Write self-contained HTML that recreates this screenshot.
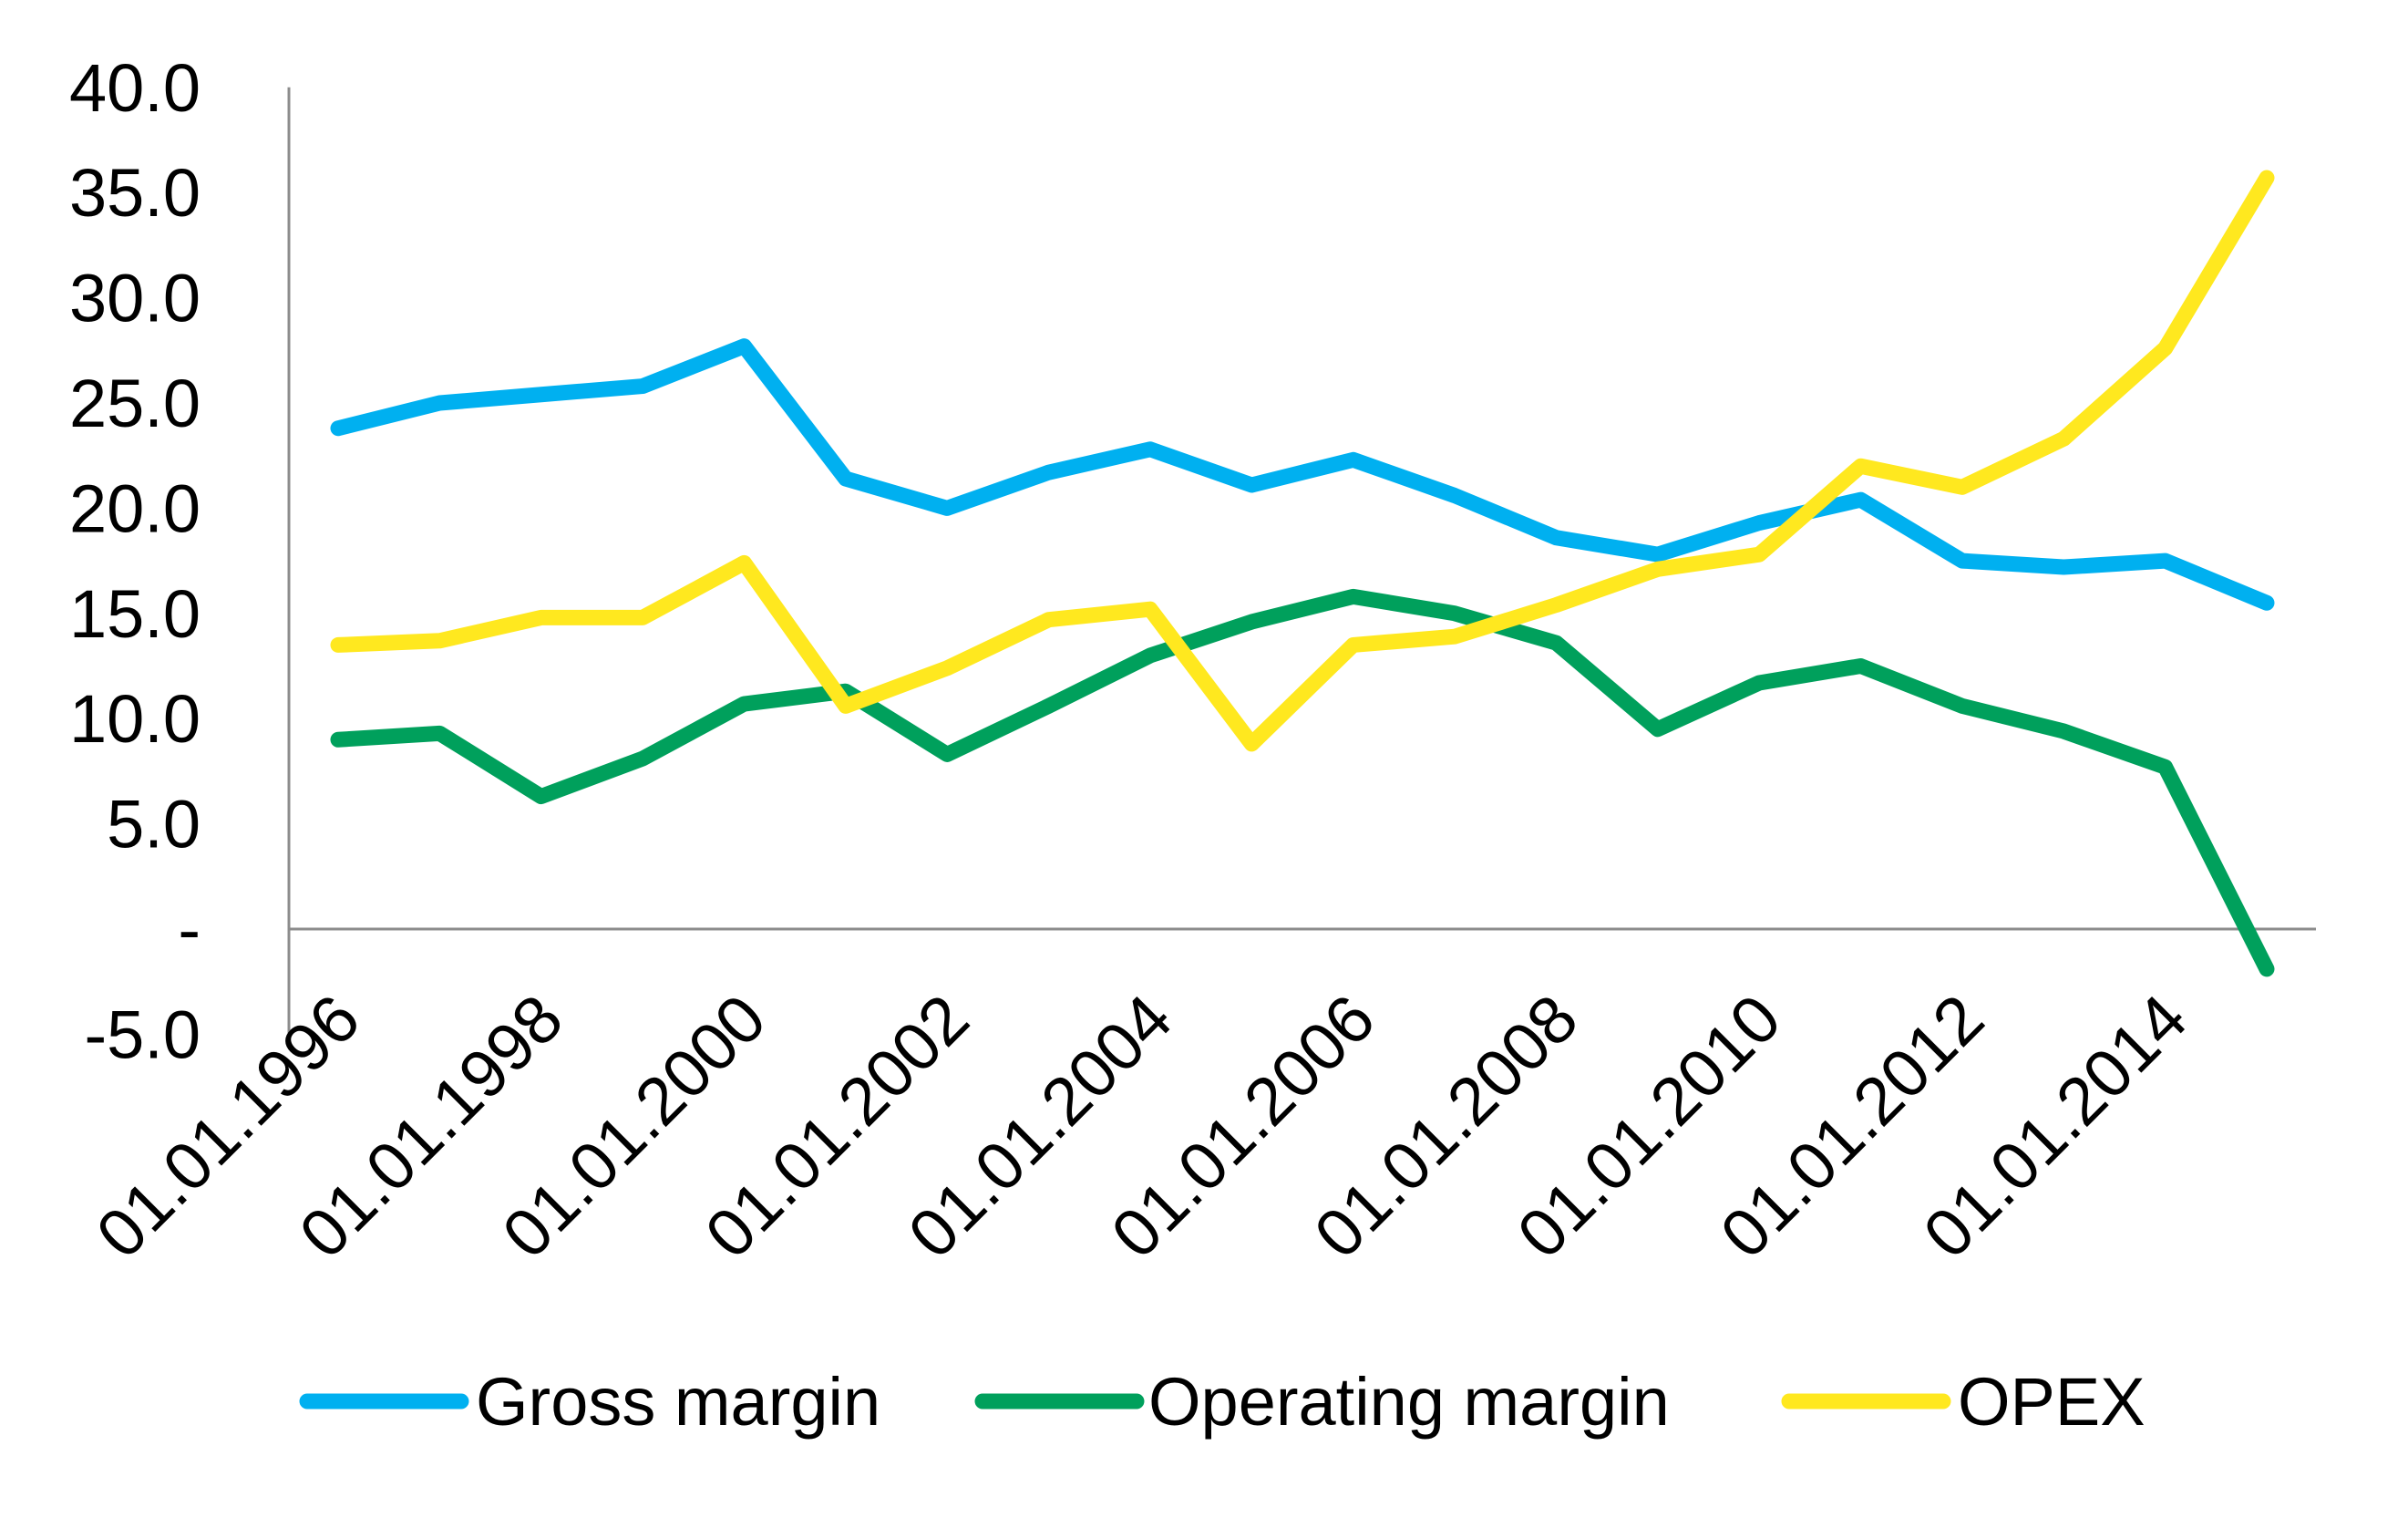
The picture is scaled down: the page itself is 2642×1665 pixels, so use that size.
<!DOCTYPE html>
<html><head><meta charset="utf-8"><style>
html,body{margin:0;padding:0;background:#fff;}
svg{display:block;font-family:"Liberation Sans",sans-serif;}
</style></head><body>
<svg id="chart" width="2642" height="1665" viewBox="0 0 2642 1665"></svg>
<script>
const years=[1996,1997,1998,1999,2000,2001,2002,2003,2004,2005,2006,2007,2008,2009,2010,2011,2012,2013,2014,2015];
const grossMargin=[23.8,25.0,25.4,25.8,27.7,21.4,20.0,21.7,22.8,21.1,22.3,20.6,18.6,17.8,19.3,20.4,17.5,17.2,17.5,15.5];
const operatingMargin=[9.0,9.3,6.3,8.1,10.7,11.3,8.3,10.6,13.0,14.6,15.8,15.0,13.6,9.5,11.7,12.5,10.6,9.4,7.7,-1.9];
const opex=[13.5,13.7,14.8,14.8,17.4,10.6,12.4,14.7,15.2,8.8,13.5,13.9,15.4,17.1,17.8,22.0,21.0,23.3,27.6,35.7];
const yTicks=[-5,0,5,10,15,20,25,30,35,40];
const yTickLabels=["-5.0","-","5.0","10.0","15.0","20.0","25.0","30.0","35.0","40.0"];
const seriesNames=["Gross margin","Operating margin","OPEX"];

const NS="http://www.w3.org/2000/svg";
const svg=document.getElementById('chart');
const X0=371,X1=2487,axisX=317,plotRight=2541;
const yZero=1019,perUnit=115.4/5;
function xs(i){return X0+(X1-X0)*i/(years.length-1);}
function ys(v){return yZero-v*perUnit;}
function mk(t,a){const e=document.createElementNS(NS,t);for(const k in a)e.setAttribute(k,a[k]);svg.appendChild(e);return e;}

let ax=mk('line',{x1:axisX,y1:ys(40),x2:axisX,y2:ys(-5),stroke:'#8c8c8c','stroke-width':3});


let zl=mk('line',{x1:axisX,y1:ys(0),x2:plotRight,y2:ys(0),stroke:'#8c8c8c','stroke-width':3});



yTicks.forEach((v,i)=>{
  const t=mk('text',{x:220,y:ys(v)+26,'text-anchor':'end','font-size':74,fill:'#000'});
  t.textContent=yTickLabels[i];
  
  
});
years.forEach((yr,i)=>{
  if(i%2!==0)return;
  const x=xs(i)+28,y=ys(-5)-12;
  const t=mk('text',{x:x,y:y,'text-anchor':'end','font-size':74,fill:'#000',transform:`rotate(-45 ${x} ${y})`});
  t.textContent="01.01."+yr;
  
  
});

const colors=["#00B0F0","#00A05C","#FFE81F"];
[grossMargin,operatingMargin,opex].forEach((s,k)=>{
  const p=mk('polyline',{points:s.map((v,i)=>xs(i)+','+ys(v)).join(' '),fill:'none',stroke:colors[k],'stroke-width':12,'stroke-linejoin':'round','stroke-linecap':'round'});
  p.setAttribute('stroke-width',17);
  
  
});

const legX=[[337,506,522],[1078,1247,1260],[1963,2132,2148]];
seriesNames.forEach((n,k)=>{
  const l=mk('line',{x1:legX[k][0],y1:1537,x2:legX[k][1],y2:1537,stroke:colors[k],'stroke-width':17,'stroke-linecap':'round'});
  
  
  const t=mk('text',{x:legX[k][2],y:1563,'font-size':74,fill:'#000'});
  t.textContent=n;
  
  
});
</script>
</body></html>
